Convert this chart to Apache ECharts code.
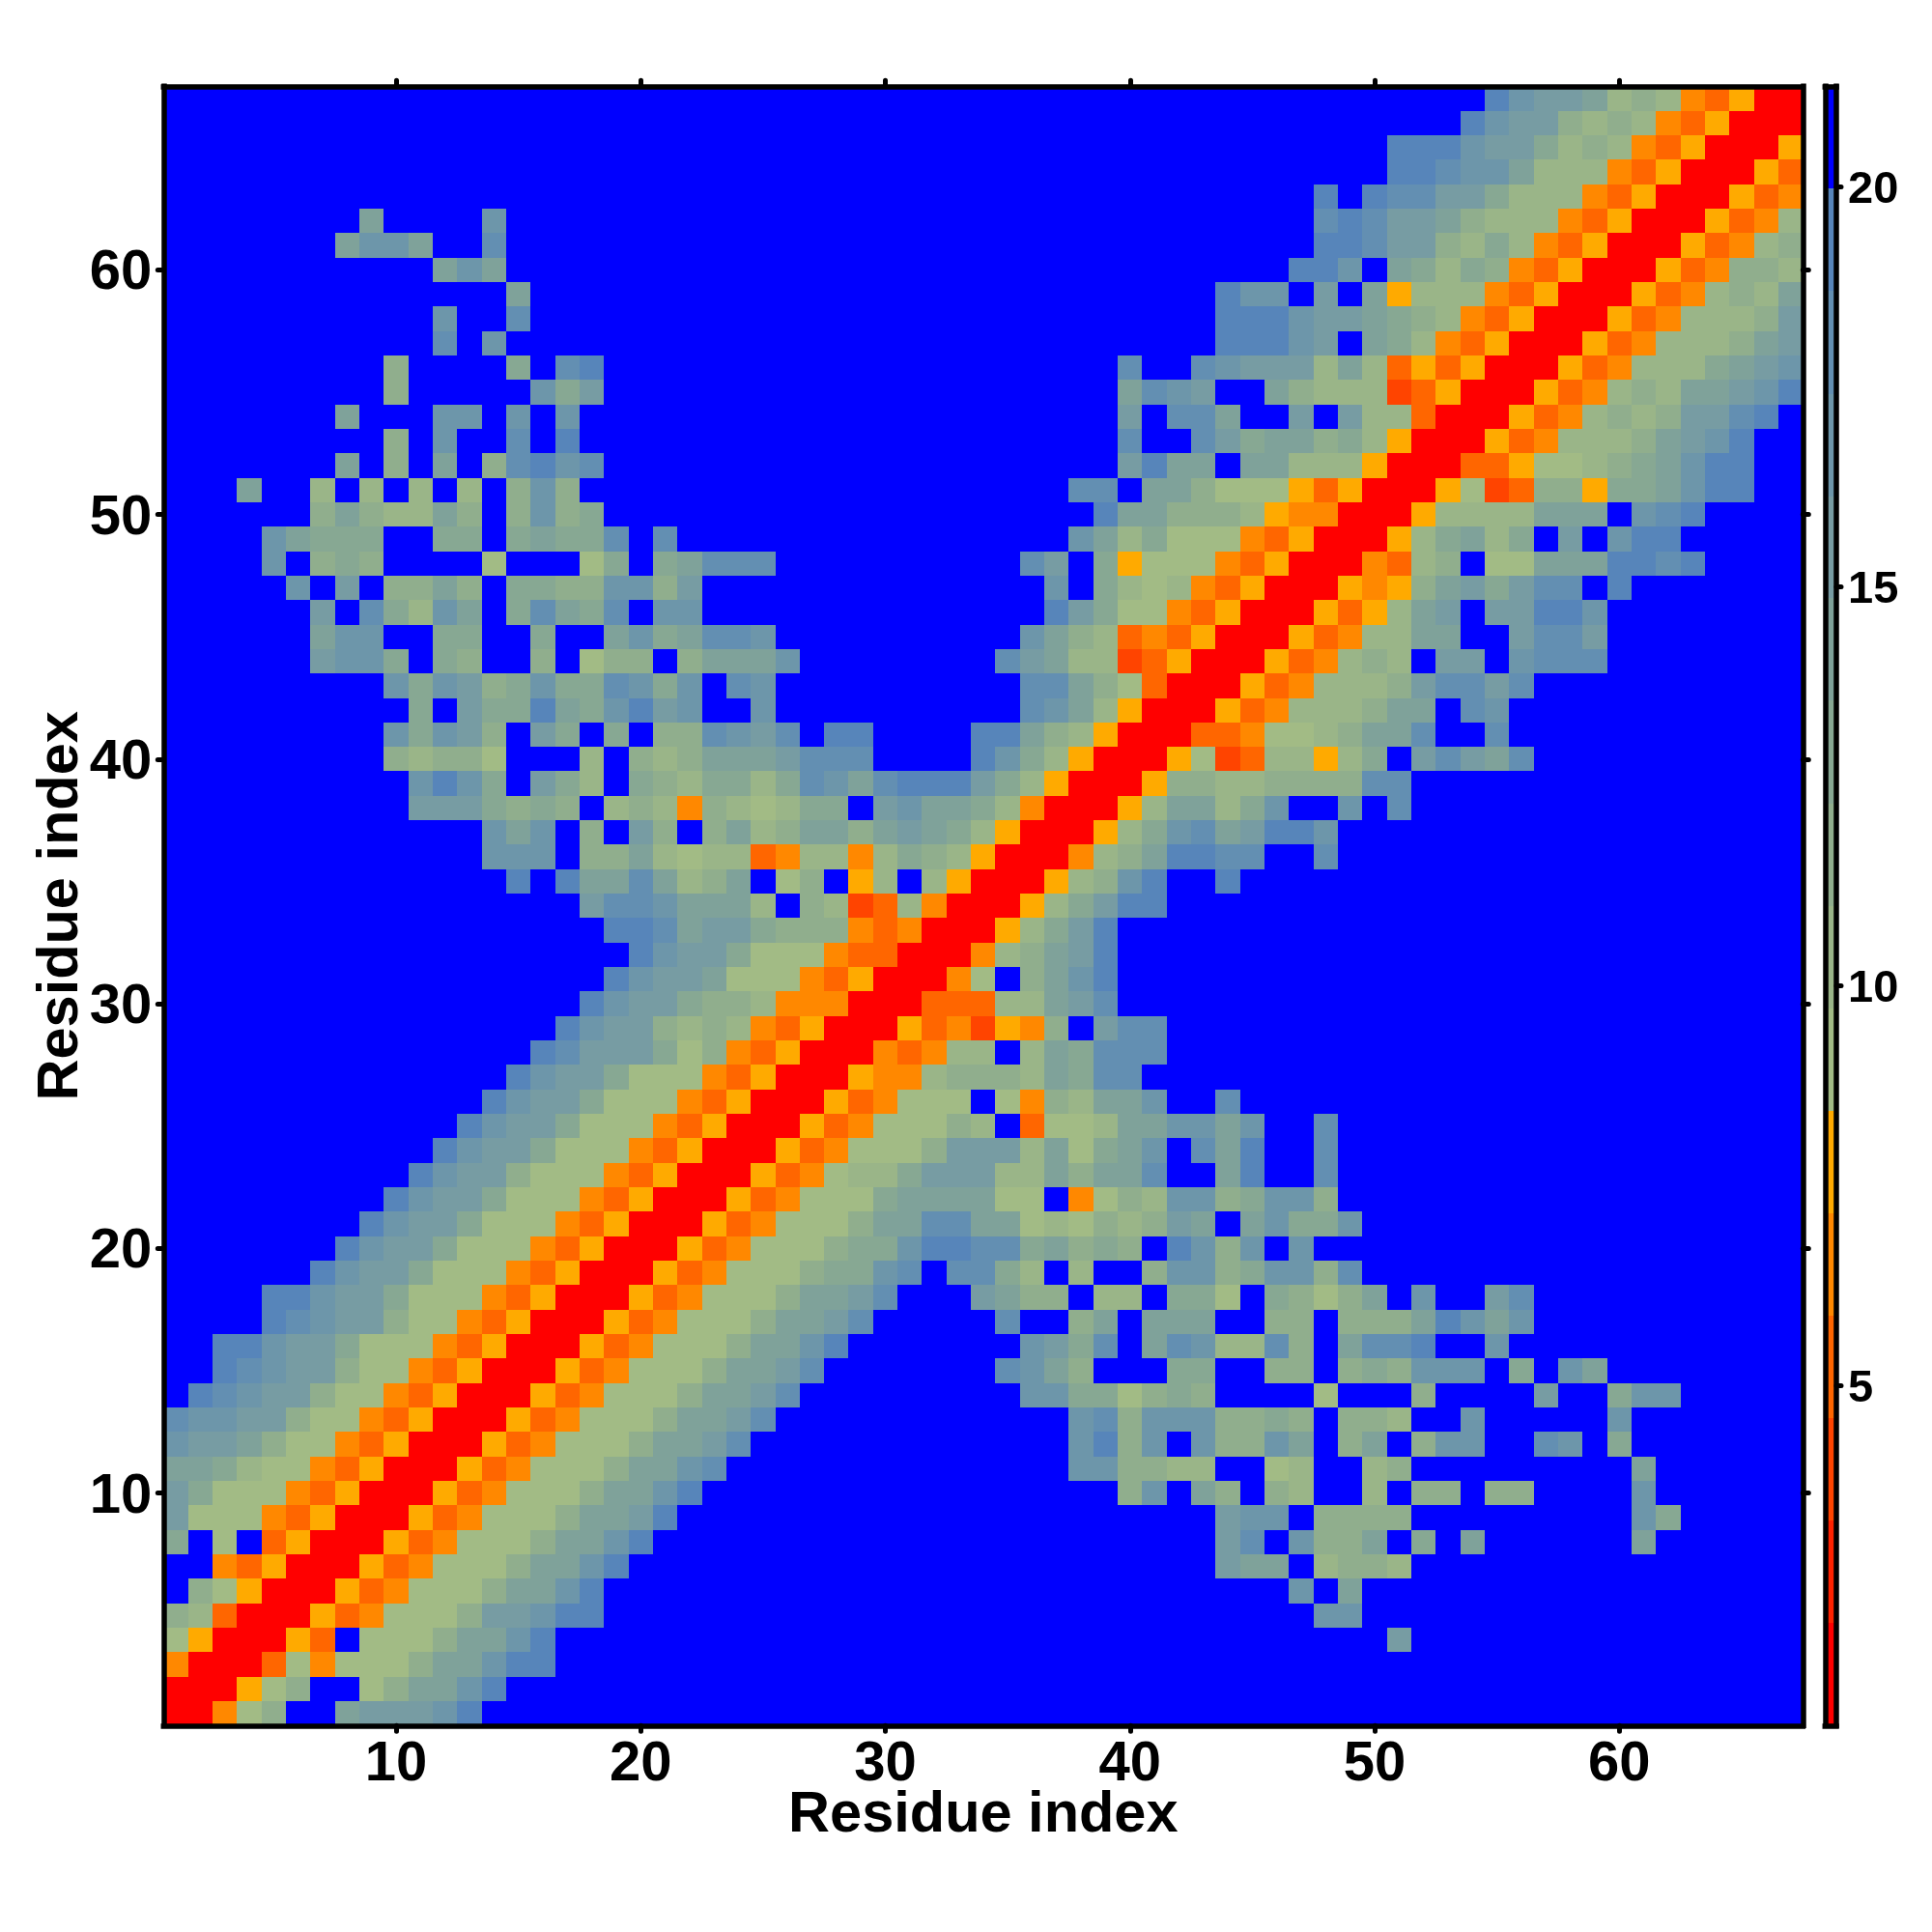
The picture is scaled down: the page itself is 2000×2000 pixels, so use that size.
<!DOCTYPE html>
<html>
<head>
<meta charset="utf-8">
<style>html,body{margin:0;padding:0;background:#fff}#c{width:2000px;height:2000px}</style>
<script src="https://cdn.jsdelivr.net/npm/echarts@6/dist/echarts.min.js"></script>
</head>
<body>
<div id="c"></div>
<script>
// Residue indices 1..67, ticks each 10
const residues = [];
for (let i = 1; i <= 67; i++) residues.push(String(i));

// Each row is y = 67 (top) down to y = 1; each character is one cell's band.
const rowsTopDown = [
".......... .......... .......... .......... .......... ....976652 32OMARR",
".......... .......... .......... .......... .......... ...9766323 2OMARRR",
".......... .......... .......... .......... .......... 9997664232 OMARRRA",
".......... .......... .......... .......... .......... 998775222O MARRRAM",
".......... .......... .......... .......... .......9.9 88664222OM ARRRAMO",
"........5. ...7...... .......... .......... .......898 6653222OMA RRRAMO2",
".......577 5..8...... .......... .......... .......998 663242OMAR RRAMO23",
".......... .575...... .......... .......... ......997. 54243OMARR RAMO332",
".......... ....5..... .......... .......... ...977.6.5 A222OMARRR AMO2325",
".......... .7..8..... .......... .......... ...9997665 432OMARRRA MO22236",
".......... .8.7...... .......... .......... ...99976.5 42OMARRRAM O222356",
".........3 ....4.89.. .......... .........8 ..87666252 MAMARRRAMO 2224567",
".........3 .....746.. .......... .........5 876..53222 DMARRRAMO2 3255679",
".......5.. .77.7.7... .......... .........6 .885..6.62 2MRRRAMO23 236689.",
".........3 .7..8.9... .......... .........8 ..86455342 ARRRAMO222 35679..",
".......5.3 .5.38978.. .......... .........6 955.55222A RRRMMA1123 45799..",
"...5..2.2. 2.2.373... .......... .......88. 553111AMAR RRA1DM33A4 45799..",
"......3532 253.3734.. .......... ........95 53332AOORR RA2222555. 789....",
"....75444. .44.45448. 8......... .......752 4111OMARRR A24524.6.7 99.....",
"....7.343. ...1...14. 45888..... .....86.4A 111OMARRRO M23.115559 989....",
".....7.6.3 353.443377 36........ ......7.42 12OMARRRAO A3564688.9 .......",
"......6.84 275.48548. 77........ ......9641 1OMARRRAMA 256.66997. .......",
"......577. .44..4..57 45887..... .....7532M OMARRRAMO2 255..6886. .......",
"......6774 .43..3.133 .35557.... ....86522D MARRRAMO23 2.66.7888. .......",
".........7 4763474487 47.87..... .....88531 MRRRAMO222 368868.... .......",
".......... 4.64495479 67..7..... .....8752A RRRAMO2223 55.87..... .......",
".........7 4763.64.4. 338768.99. ...99532AR RRMMO11235 58..8..... .......",
".........3 2331...2.3 235556888. ...9742ARR RA1DM22A24 .68658.... .......",
".......... 7974.642.4 3244248758 999642ARRR A332233338 8......... .......",
".......... 6664343.23 2O321244.6 75542ORRRA 255247..7. 8......... .......",
".......... ...757.3.6 3.35235535 6542ARRRA2 47856997.. .......... .......",
".......... ...777.335 2122MO22O2 432ARRRO23 59988..8.. .......... .......",
".......... ....9.9558 5235.13.A2 .2ARRRA237 9..9...... .......... .......",
".......... .......688 75552.32DM 2ORRRA2469 9......... .......... .......",
".......... ........99 85664333OM ORRRA2469. .......... .......... .......",
".......... .........9 7664111OMM RRRO23569. .......... .......... .......",
".......... ........97 665111OMAR RRO1.3579. .......... .......... .......",
".......... .......976 64332OOORR RMMM22568. .......... .......... .......",
".......... ......9766 3232OMARRR AMODAO3.68 8......... .......... .......",
".......... .....98666 413OMARRRO MO22.25488 8......... .......... .......",
".......... ....976641 11OMARRRAO O233325488 .......... .......... .......",
".......... ...9766411 1OMARRRAMO 111.1O3255 7..8...... .......... .......",
".......... ..97664111 OMARRRAMO1 1132.M1125 57757..8.. .......... .......",
".......... .97664111O MARRRAMO11 1366625145 7.859..8.. .......... .......",
".......... 97663111OM ARRRAMO122 4666225355 8..59..8.. .......... .......",
".........9 7664111OMA RRRAMO1114 555511.O13 27734773.. .......... .......",
"........97 664111OMAR RRAMO11135 5885512132 365.57447. .......... .......",
".......976 64111OMARR RAMO111344 7998845343 .9737.7... .......... .......",
"......9766 4111OMARRR AMO1113447 8.8842.2.. 377347738. .......... .......",
"....997664 111OMARRRA MO11135568 ...6533.22 .441.43135 .7..68.... .......",
"....987663 11OMARRRAM O11135568. ....8..35. 555..33.33 359757.... .......",
"..99766411 1OMARRRAMO 11135579.. .....7648. 5872283.58 89..7..... .......",
"..98766311 OMARRRAMO1 1135568... ....8753.. .44..33.34 3777.4.75. .......",
".98766311O MARRRAMO11 135568.... .....77441 343....1.. .3....6..4 77.....",
"87766311OM ARRRAMO111 35568..... .......783 7773343.33 2..7.....7 .......",
"7665311OMA RRRAMO1113 5568...... .......793 7.73375.35 .377..87.4 .......",
"554211OMAR RRAMO11135 578....... .......773 322..12..2 3......... 5......",
"64111OMARR RAMO111355 79........ .........3 7.53.32..2 .33.33.... 7......",
"6111OMARRR AMO1113556 9......... .......... ...677.333 3......... 74.....",
"4.1.MARRRA MO11135579 .......... .......... ...68.7335 .4.5...... 5......",
"..OMARRRAM O11135579. .......... .......... ...655.233 2......... .......",
".31ARRRAMO 11135579.. .......... .......... ......7.5. .......... .......",
"32MRRRAMO1 11366799.. .......... .......... .......77. .......... .......",
"1ARRRAM.11 135579.... .......... .......... .......... 6......... .......",
"ORRRM1O111 355799.... .......... .......... .......... .......... .......",
"RRRA13..13 5579...... .......... .......... .......... .......... .......",
"RRO13..566 679....... .......... .......... .......... .......... ......."
];

// Distance value read for each band symbol
const bandValue = {R:1.4,D:3.9,M:5.2,O:6.5,A:7.8,'1':9.1,'2':10.4,'3':11.6,'4':12.9,'5':14.2,'6':15.5,'7':16.8,'8':18.0,'9':19.3,'.':20.6};

// Colour scale: 16 bands
const bandEdges = [0.74,2.02,3.31,4.59,5.87,7.15,8.44,9.72,11.0,12.28,13.57,14.85,16.13,17.41,18.70,19.98,21.26];
const bandColors = ['#ff0000','#ff2200','#ff4400','#ff6600','#ff8800','#ffaa00','#a2bb85','#9ab588','#90ae8d','#87a893','#7fa29a','#779ca3','#6d96aa','#638fb2','#5785ba','#0000ff'];
const colorbarTicks = [5,10,15,20];

const cells = [];
rowsTopDown.forEach(function (row, r) {
  const s = row.replace(/ /g, '');
  for (let c = 0; c < s.length; c++) {
    cells.push([c, 66 - r, bandValue[s[c]]]);
  }
});
const pieces = bandColors.map(function (color, i) {
  return {gte: bandEdges[i], lt: bandEdges[i + 1], color: color};
});
const barData = bandColors.map(function (color, i) {
  return {value: [bandEdges[i], bandEdges[i + 1]], itemStyle: {color: color}};
});

const FONT = '"Liberation Sans", Arial, sans-serif';
const every10 = function (i, v) { return Number(v) % 10 === 0; };
const frame = {show: true, onZero: false, lineStyle: {color: '#000', width: 5.5, cap: 'square'}};
const tick = {show: true, alignWithLabel: true, interval: every10, length: 6, lineStyle: {color: '#000', width: 5, cap: 'round'}};
const nameStyle = {fontFamily: FONT, fontWeight: 'bold', fontSize: 59.5, color: '#000'};
const labelStyle = {fontFamily: FONT, fontWeight: 'bold', fontSize: 58, color: '#000'};

const chart = echarts.init(document.getElementById('c'), null, {renderer: 'canvas', width: 2000, height: 2000});
chart.setOption({
  animation: false,
  backgroundColor: '#fff',
  grid: [
    {left: 169.3, top: 89.3, width: 1697, height: 1697, containLabel: false},
    {left: 1889.3, top: 89.3, width: 11.7, height: 1697, containLabel: false}
  ],
  xAxis: [
    {type: 'category', gridIndex: 0, position: 'bottom', data: residues, z: 5,
     axisLine: frame, axisTick: tick, splitLine: {show: false},
     axisLabel: Object.assign({interval: every10, margin: 12}, labelStyle),
     name: 'Residue index', nameLocation: 'middle', nameGap: 63, nameMoveOverlap: false, nameTextStyle: nameStyle},
    {type: 'category', gridIndex: 0, position: 'top', data: residues, z: 5,
     axisLine: frame, axisTick: tick, axisLabel: {show: false}, splitLine: {show: false}},
    {type: 'value', gridIndex: 1, position: 'bottom', min: 0, max: 1, z: 5,
     axisLine: frame, axisTick: {show: false}, axisLabel: {show: false}, splitLine: {show: false}},
    {type: 'value', gridIndex: 1, position: 'top', min: 0, max: 1, z: 5,
     axisLine: frame, axisTick: {show: false}, axisLabel: {show: false}, splitLine: {show: false}}
  ],
  yAxis: [
    {type: 'category', gridIndex: 0, position: 'left', data: residues, z: 5,
     axisLine: frame, axisTick: tick, splitLine: {show: false},
     axisLabel: {interval: every10, margin: 12, formatter: '{a|{value}}',
       rich: {a: Object.assign({padding: [8, 0, 0, 0]}, labelStyle)}},
     name: 'Residue index', nameLocation: 'middle', nameGap: 76, nameRotate: 90, nameMoveOverlap: false, nameTextStyle: nameStyle},
    {type: 'category', gridIndex: 0, position: 'right', data: residues, z: 5,
     axisLine: frame, axisTick: tick, axisLabel: {show: false}, splitLine: {show: false}},
    {type: 'value', gridIndex: 1, position: 'right', min: bandEdges[0], max: bandEdges[16], z: 5,
     axisLine: frame,
     axisTick: {show: true, customValues: colorbarTicks, length: 5, lineStyle: {color: '#000', width: 5, cap: 'round'}},
     axisLabel: {show: true, customValues: colorbarTicks, margin: 12, formatter: '{a|{value}}',
       rich: {a: {padding: [8, 0, 0, 0], fontFamily: FONT, fontWeight: 'bold', fontSize: 47, color: '#000'}}},
     splitLine: {show: false}},
    {type: 'value', gridIndex: 1, position: 'left', min: bandEdges[0], max: bandEdges[16], z: 5,
     axisLine: frame, axisTick: {show: false}, axisLabel: {show: false}, splitLine: {show: false}}
  ],
  visualMap: {type: 'piecewise', show: false, seriesIndex: 0, dimension: 2, pieces: pieces},
  series: [
    {type: 'custom', xAxisIndex: 0, yAxisIndex: 0, data: cells, silent: true, animation: false, z: 1, clip: true,
     encode: {x: 0, y: 1},
     renderItem: function (params, api) {
       const c = api.coord([api.value(0), api.value(1)]);
       const s = api.size([1, 1]);
       const x0 = Math.round(c[0] - s[0] / 2), x1 = Math.round(c[0] + s[0] / 2);
       const y0 = Math.round(c[1] - s[1] / 2), y1 = Math.round(c[1] + s[1] / 2);
       return {type: 'rect', shape: {x: x0, y: y0, width: x1 - x0, height: y1 - y0},
         style: {fill: api.visual('color')}};
     }},
    {type: 'custom', xAxisIndex: 2, yAxisIndex: 2, data: barData, silent: true, animation: false, z: 1,
     encode: {y: [0, 1]},
     renderItem: function (params, api) {
       const lo = api.coord([0, api.value(0)]);
       const hi = api.coord([1, api.value(1)]);
       return {type: 'rect',
         shape: {x: lo[0], y: Math.round(hi[1]), width: hi[0] - lo[0], height: Math.round(lo[1]) - Math.round(hi[1])},
         style: {fill: api.style().fill}};
     }}
  ]
});
</script>
</body>
</html>
